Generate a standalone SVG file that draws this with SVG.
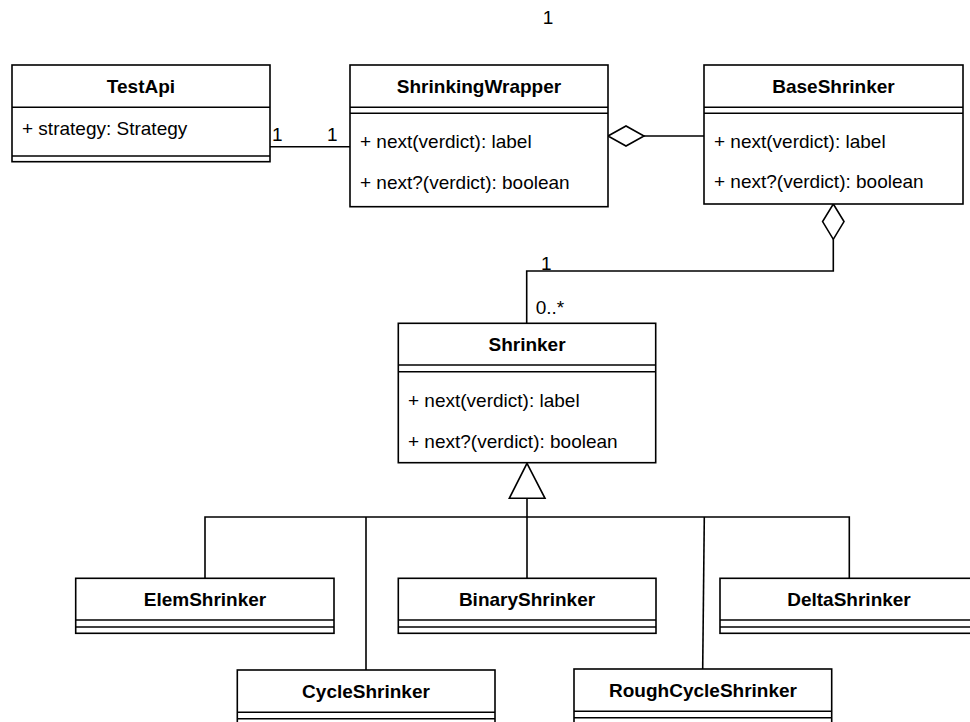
<svg xmlns="http://www.w3.org/2000/svg" width="970" height="722" viewBox="0 0 970 722">
<style>
.box{fill:#fff;stroke:#000;stroke-width:1.6}
.ln{fill:none;stroke:#000;stroke-width:1.6}
.t{font-family:"Liberation Sans",Arial,sans-serif;font-size:19px;fill:#000}
.h{font-weight:bold;text-anchor:middle}
.dia{fill:#fff;stroke:#000;stroke-width:1.6}
</style>
<rect width="970" height="722" fill="#fff"/>
<text class="t" x="548" y="24" text-anchor="middle">1</text>

<g id="connectors">
  <line class="ln" x1="270" y1="146.7" x2="350" y2="146.7"/>
  <text class="t" x="272" y="140.7">1</text>
  <text class="t" x="327" y="140.7">1</text>
  <line class="ln" x1="644" y1="136" x2="704" y2="136"/>
  <polygon class="dia" points="608,136 626,126 644,136 626,146"/>
  <polyline class="ln" points="833.3,239.3 833.3,271 526.7,271 526.7,323.3"/>
  <polygon class="dia" points="833.3,204 844,221.6 833.3,239.3 822.6,221.6"/>
  <text class="t" x="541" y="270">1</text>
  <text class="t" x="535.7" y="314">0..*</text>
  <polyline class="ln" points="205,578.3 205,517 849.3,517 849.3,578.3"/>
  <line class="ln" x1="366" y1="517" x2="366" y2="670"/>
  <line class="ln" x1="527" y1="498.3" x2="527" y2="578.3"/>
  <line class="ln" x1="704.3" y1="517" x2="702.7" y2="669"/>
  <polygon class="dia" points="527,463.3 545,498.3 509.3,498.3"/>
</g>

<g id="TestApi">
  <rect class="box" x="12" y="65" width="258" height="96.7"/>
  <line class="ln" x1="12" y1="107.3" x2="270" y2="107.3"/>
  <line class="ln" x1="12" y1="156" x2="270" y2="156"/>
  <text class="t h" x="141" y="93.3">TestApi</text>
  <text class="t" x="22" y="135">+ strategy: Strategy</text>
</g>

<g id="ShrinkingWrapper">
  <rect class="box" x="350" y="65" width="258" height="141.7"/>
  <line class="ln" x1="350" y1="107.3" x2="608" y2="107.3"/>
  <line class="ln" x1="350" y1="113.3" x2="608" y2="113.3"/>
  <text class="t h" x="479" y="93.3">ShrinkingWrapper</text>
  <text class="t" x="360" y="148.3">+ next(verdict): label</text>
  <text class="t" x="360" y="189.3">+ next?(verdict): boolean</text>
</g>

<g id="BaseShrinker">
  <rect class="box" x="704" y="65" width="259" height="139"/>
  <line class="ln" x1="704" y1="107.3" x2="963" y2="107.3"/>
  <line class="ln" x1="704" y1="113.3" x2="963" y2="113.3"/>
  <text class="t h" x="833.5" y="93.3">BaseShrinker</text>
  <text class="t" x="714" y="148.3">+ next(verdict): label</text>
  <text class="t" x="714" y="188.3">+ next?(verdict): boolean</text>
</g>

<g id="Shrinker">
  <rect class="box" x="398.3" y="323.3" width="257.4" height="139.4"/>
  <line class="ln" x1="398.3" y1="365" x2="655.7" y2="365"/>
  <line class="ln" x1="398.3" y1="371.7" x2="655.7" y2="371.7"/>
  <text class="t h" x="527" y="351.3">Shrinker</text>
  <text class="t" x="408" y="406.7">+ next(verdict): label</text>
  <text class="t" x="408" y="448.3">+ next?(verdict): boolean</text>
</g>

<g id="ElemShrinker">
  <rect class="box" x="75.7" y="578.3" width="258.3" height="55"/>
  <line class="ln" x1="75.7" y1="620" x2="334" y2="620"/>
  <line class="ln" x1="75.7" y1="627" x2="334" y2="627"/>
  <text class="t h" x="205" y="606.3">ElemShrinker</text>
</g>

<g id="BinaryShrinker">
  <rect class="box" x="398.3" y="578.3" width="257.7" height="55"/>
  <line class="ln" x1="398.3" y1="620" x2="656" y2="620"/>
  <line class="ln" x1="398.3" y1="627" x2="656" y2="627"/>
  <text class="t h" x="527" y="606.3">BinaryShrinker</text>
</g>

<g id="DeltaShrinker">
  <rect class="box" x="720" y="578.3" width="258" height="55"/>
  <line class="ln" x1="720" y1="620" x2="978" y2="620"/>
  <line class="ln" x1="720" y1="627" x2="978" y2="627"/>
  <text class="t h" x="849" y="606.3">DeltaShrinker</text>
</g>

<g id="CycleShrinker">
  <rect class="box" x="237.3" y="670" width="257.7" height="60"/>
  <line class="ln" x1="237.3" y1="712.3" x2="495" y2="712.3"/>
  <line class="ln" x1="237.3" y1="718.7" x2="495" y2="718.7"/>
  <text class="t h" x="366" y="698">CycleShrinker</text>
</g>

<g id="RoughCycleShrinker">
  <rect class="box" x="574" y="669" width="257.7" height="60"/>
  <line class="ln" x1="574" y1="711.3" x2="831.7" y2="711.3"/>
  <line class="ln" x1="574" y1="717.7" x2="831.7" y2="717.7"/>
  <text class="t h" x="703" y="697">RoughCycleShrinker</text>
</g>
</svg>
